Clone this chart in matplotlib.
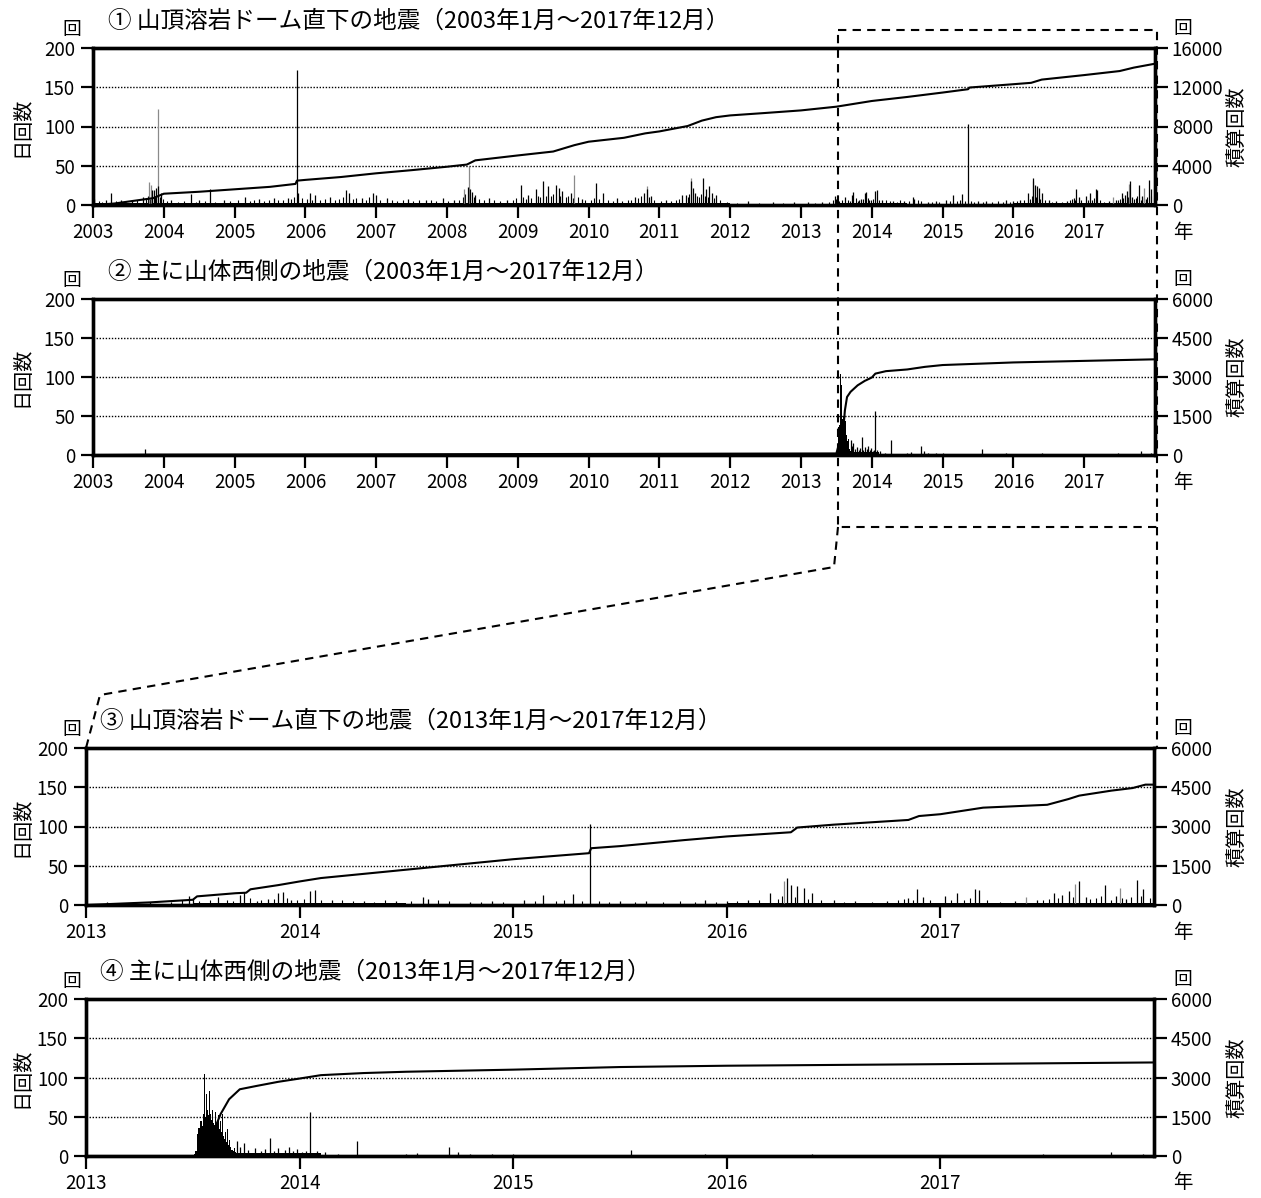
import matplotlib
matplotlib.use("Agg")
import matplotlib.pyplot as plt
from matplotlib.lines import Line2D

plt.rcParams['font.family'] = ['Noto Sans CJK JP', 'DejaVu Sans']

# ---- panel 1/3: summit lava dome earthquakes ----
# typical daily level (half-year steps)
dome_band_t = [2003.0, 2003.5, 2004.0, 2004.5, 2005.0, 2005.5, 2006.0, 2006.5, 2007.0, 2007.5,
               2008.0, 2008.5, 2009.0, 2009.5, 2010.0, 2010.5, 2011.0, 2011.5, 2012.0, 2012.5,
               2013.0, 2013.5, 2014.0, 2014.5, 2015.0, 2015.5, 2016.0, 2016.5, 2017.0, 2017.5, 2018.0]
dome_band_v = [2, 3, 2, 2, 2, 2, 3, 3, 2, 2,
               3, 2.5, 3, 3, 2.5, 3, 2.5, 3, 1.5, 1.5,
               1.2, 2, 2, 1.5, 1.5, 1.5, 2, 2, 2, 2.5, 2.5]

dome_spike_t = [2003.02, 2003.18, 2003.25, 2003.40, 2003.55, 2003.70, 2003.83, 2003.86, 2003.89, 2003.92,
                2003.96, 2004.10, 2004.39, 2004.50, 2004.65, 2004.85, 2005.15, 2005.35, 2005.55, 2005.75,
                2005.88, 2005.90, 2006.07, 2006.14, 2006.35, 2006.57, 2006.62, 2006.80, 2006.95, 2007.00,
                2007.15, 2007.45, 2007.70, 2007.95, 2008.10, 2008.29, 2008.33, 2008.36, 2008.40, 2008.60,
                2008.85, 2009.04, 2009.14, 2009.25, 2009.36, 2009.43, 2009.54, 2009.58, 2009.63, 2009.75,
                2009.90, 2010.11, 2010.21, 2010.40, 2010.66, 2010.78, 2010.83, 2010.88, 2011.10, 2011.32,
                2011.37, 2011.45, 2011.47, 2011.50, 2011.62, 2011.66, 2011.70, 2011.74, 2011.80, 2012.25,
                2012.60, 2012.90,
                2013.10, 2013.30, 2013.48, 2013.50, 2013.62, 2013.72, 2013.74, 2013.80, 2013.85, 2013.90,
                2013.92, 2013.96, 2014.05, 2014.07, 2014.15, 2014.30, 2014.45, 2014.58, 2014.60, 2014.80,
                2014.90, 2015.05, 2015.14, 2015.28, 2015.36, 2015.50, 2015.62, 2015.90, 2016.00, 2016.10,
                2016.20, 2016.28, 2016.30, 2016.33, 2016.36, 2016.40, 2016.50, 2016.60, 2016.75, 2016.85,
                2016.89, 2016.92, 2017.02, 2017.08, 2017.16, 2017.18, 2017.35, 2017.45, 2017.53, 2017.57,
                2017.60, 2017.65, 2017.68, 2017.77, 2017.82, 2017.87, 2017.92, 2017.95]
dome_spike_v = [8, 6, 15, 6, 7, 10, 19, 19, 22, 24,
                15, 7, 14, 6, 20, 7, 10, 8, 9, 9,
                172, 15, 15, 13, 10, 19, 15, 9, 15, 13,
                9, 8, 7, 9, 6, 23, 20, 17, 13, 9,
                7, 26, 13, 20, 30, 24, 26, 22, 18, 15,
                8, 28, 15, 9, 10, 15, 20, 12, 6, 13,
                13, 30, 22, 15, 35, 20, 24, 15, 13, 5,
                4, 4,
                4, 4, 12, 8, 10, 13, 16, 5, 8, 15,
                17, 7, 18, 19, 6, 5, 5, 10, 8, 4,
                5, 6, 13, 14, 103, 5, 5, 6, 5, 6,
                15, 34, 26, 24, 22, 15, 7, 5, 5, 9,
                21, 10, 12, 15, 20, 19, 5, 6, 15, 13,
                18, 31, 10, 26, 12, 8, 32, 20]

# smaller daily peaks that make up the ragged background
dome_small_t = [2003.08, 2003.13, 2003.33, 2003.47, 2003.62, 2003.75, 2003.78, 2003.80, 2003.88, 2003.94,
                2003.99, 2004.05, 2004.20, 2004.28, 2004.45, 2004.58, 2004.72, 2004.93, 2005.05, 2005.22,
                2005.28, 2005.42, 2005.48, 2005.62, 2005.68, 2005.80, 2005.84, 2005.95, 2006.02, 2006.10,
                2006.20, 2006.27, 2006.42, 2006.48, 2006.53, 2006.67, 2006.72, 2006.85, 2006.90, 2007.05,
                2007.22, 2007.30, 2007.38, 2007.52, 2007.60, 2007.78, 2007.85, 2008.02, 2008.17, 2008.22,
                2008.26, 2008.31, 2008.38, 2008.45, 2008.52, 2008.66, 2008.75, 2008.93, 2008.98, 2009.08,
                2009.11, 2009.19, 2009.29, 2009.32, 2009.40, 2009.47, 2009.50, 2009.60, 2009.68, 2009.71,
                2009.78, 2009.85, 2009.95, 2010.03, 2010.08, 2010.15, 2010.27, 2010.34, 2010.47, 2010.55,
                2010.60, 2010.70, 2010.74, 2010.86, 2010.93, 2011.02, 2011.16, 2011.24, 2011.28, 2011.40,
                2011.42, 2011.53, 2011.56, 2011.59, 2011.64, 2011.68, 2011.77, 2011.86, 2011.95, 2012.10,
                2012.40, 2012.75,
                2013.20, 2013.40, 2013.45, 2013.53, 2013.58, 2013.66, 2013.69, 2013.77, 2013.82, 2013.88,
                2013.94, 2013.99, 2014.02, 2014.10, 2014.20, 2014.25, 2014.35, 2014.40, 2014.52, 2014.65,
                2014.70, 2014.85, 2014.95, 2015.10, 2015.20, 2015.24, 2015.32, 2015.40, 2015.45, 2015.57,
                2015.70, 2015.78, 2015.85, 2015.95, 2016.05, 2016.15, 2016.24, 2016.26, 2016.32, 2016.38,
                2016.44, 2016.55, 2016.68, 2016.80, 2016.83, 2016.87, 2016.95, 2017.05, 2017.11, 2017.14,
                2017.22, 2017.28, 2017.40, 2017.48, 2017.51, 2017.55, 2017.62, 2017.70, 2017.73, 2017.75,
                2017.80, 2017.85, 2017.89, 2017.94, 2017.98]
dome_small_v = [5, 4, 5, 4, 6, 9, 12, 8, 12, 10,
                8, 5, 4, 5, 4, 5, 4, 5, 6, 5,
                7, 5, 6, 6, 7, 8, 10, 9, 8, 7,
                6, 8, 7, 8, 10, 8, 9, 7, 10, 7,
                6, 5, 6, 5, 6, 6, 5, 5, 6, 10,
                14, 12, 10, 8, 7, 6, 5, 7, 9, 10,
                8, 9, 12, 10, 11, 12, 14, 12, 10, 12,
                9, 10, 7, 6, 9, 8, 6, 5, 5, 6,
                7, 9, 11, 10, 7, 5, 5, 6, 8, 10,
                14, 12, 10, 14, 12, 10, 9, 6, 4, 3,
                3, 3,
                3, 4, 6, 5, 6, 7, 5, 9, 6, 8,
                9, 6, 8, 7, 6, 5, 4, 6, 5, 6,
                5, 4, 4, 5, 5, 6, 5, 5, 4, 4,
                4, 5, 4, 4, 5, 6, 8, 12, 10, 8,
                6, 4, 4, 6, 8, 7, 6, 6, 7, 9,
                6, 4, 4, 6, 8, 9, 10, 8, 9, 12,
                7, 9, 10, 12, 9]

dome_gray_t = [2003.79, 2003.82, 2003.92, 2008.24, 2008.31, 2009.80, 2010.82, 2011.44,
               2016.27, 2017.40, 2017.63, 2017.84]
dome_gray_v = [29, 26, 122, 21, 50, 38, 24, 34, 30, 10, 27, 22]

# cumulative counts, 2003-2017
dome_cum_t = [2003.0, 2003.3, 2003.6, 2003.85, 2003.95, 2004.0, 2004.5, 2005.0, 2005.5, 2005.86,
              2005.88, 2006.0, 2006.5, 2007.0, 2007.5, 2008.0, 2008.28, 2008.4, 2008.7, 2009.0,
              2009.5, 2009.8, 2010.0, 2010.5, 2010.8, 2011.0, 2011.4, 2011.6, 2011.8, 2012.0,
              2012.5, 2013.0, 2013.5, 2014.0, 2014.5, 2015.0, 2015.36, 2015.38, 2016.0, 2016.25,
              2016.4, 2017.0, 2017.5, 2017.7, 2018.0]
dome_cum_v = [0, 150, 450, 700, 1000, 1150, 1350, 1600, 1850, 2150,
              2480, 2560, 2850, 3230, 3550, 3900, 4120, 4550, 4800, 5050,
              5450, 6100, 6450, 6850, 7300, 7500, 8050, 8600, 8950, 9130,
              9380, 9640, 10020, 10600, 11010, 11460, 11800, 11970, 12310, 12450,
              12780, 13240, 13650, 14000, 14400]

# cumulative counts, 2013-2017
dome_cum13_t = [2013.0, 2013.3, 2013.5, 2013.52, 2013.7, 2013.75, 2013.77, 2013.9, 2014.0, 2014.1,
                2014.5, 2015.0, 2015.355, 2015.365, 2015.5, 2015.8, 2016.0, 2016.3, 2016.33, 2016.5,
                2016.85, 2016.9, 2017.0, 2017.2, 2017.5, 2017.6, 2017.65, 2017.8, 2017.9, 2017.96, 2018.0]
dome_cum13_v = [0, 100, 200, 330, 450, 470, 600, 760, 900, 1030,
                1350, 1750, 1980, 2170, 2250, 2480, 2620, 2780, 2960, 3070,
                3250, 3400, 3470, 3720, 3830, 4050, 4180, 4370, 4470, 4600, 4600]

# ---- panel 2/4: mainly west flank earthquakes ----
west_swarm_t = [2013.505, 2013.514, 2013.522, 2013.529, 2013.537, 2013.545, 2013.552, 2013.557, 2013.561, 2013.564,
                2013.568, 2013.571, 2013.574, 2013.577, 2013.580, 2013.583, 2013.587, 2013.591, 2013.595, 2013.599,
                2013.603, 2013.607, 2013.611, 2013.615, 2013.618, 2013.622, 2013.626, 2013.630, 2013.634, 2013.638,
                2013.642, 2013.646, 2013.650, 2013.654, 2013.658, 2013.662, 2013.666, 2013.670, 2013.674, 2013.677,
                2013.681, 2013.685, 2013.690, 2013.693, 2013.700, 2013.705]
west_swarm_v = [2, 6, 28, 36, 44, 38, 54, 104, 50, 79,
                58, 90, 52, 83, 48, 54, 46, 58, 42, 50,
                40, 56, 42, 46, 36, 52, 34, 44, 30, 54,
                26, 40, 22, 31, 18, 35, 14, 21, 10, 12,
                8, 8, 6, 10, 5, 4]

west_spike_t = [2003.74, 2013.708, 2013.72, 2013.74, 2013.76, 2013.79, 2013.82, 2013.84, 2013.86, 2013.88,
                2013.90, 2013.93, 2013.95, 2013.97, 2013.99, 2014.01, 2014.03, 2014.05, 2014.08, 2014.12,
                2014.18, 2014.27, 2014.50, 2014.55, 2014.70, 2014.74, 2014.80, 2014.90, 2015.00, 2015.55,
                2015.90, 2016.40, 2017.48, 2017.80, 2017.95]
west_spike_v = [8, 19, 12, 16, 8, 10, 6, 9, 23, 7,
                10, 8, 12, 6, 9, 5, 7, 56, 6, 5,
                3, 19, 3, 4, 12, 5, 3, 2, 3, 8,
                3, 3, 3, 5, 2]

west_band_t = [2013.705, 2014.1, 2015.0, 2018.0]
west_band_v = [4, 1, 0.4, 0.4]

west_cum_t = [2003.0, 2003.74, 2006.3, 2009.8, 2013.5, 2013.6, 2013.62, 2013.65, 2013.7, 2013.8,
              2013.9, 2014.0, 2014.05, 2014.2, 2014.5, 2014.75, 2015.0, 2016.0, 2017.0, 2018.0]
west_cum_v = [0, 10, 20, 40, 60, 1070, 1715, 2230, 2430, 2680,
              2850, 2980, 3130, 3225, 3290, 3390, 3460, 3560, 3620, 3680]

west_cum13_t = [2013.0, 2013.55, 2013.6, 2013.63, 2013.67, 2013.72, 2013.8, 2013.9, 2014.0, 2014.1,
                2014.3, 2014.5, 2015.0, 2015.5, 2016.0, 2017.0, 2018.0]
west_cum13_v = [0, 0, 1000, 1600, 2170, 2550, 2680, 2835, 2960, 3090,
                3170, 3220, 3300, 3400, 3450, 3510, 3575]

titles = ["① 山頂溶岩ドーム直下の地震（2003年1月～2017年12月）",
          "② 主に山体西側の地震（2003年1月～2017年12月）",
          "③ 山頂溶岩ドーム直下の地震（2013年1月～2017年12月）",
          "④ 主に山体西側の地震（2013年1月～2017年12月）"]

W, H = 1261, 1198
fig = plt.figure(figsize=(W / 100, H / 100), dpi=100)


def rect(left, top, right, bottom):
    return [left / W, 1 - bottom / H, (right - left) / W, (bottom - top) / H]


def panel(r, x0, years, rmax, title, tx, band, spikes, gray, cum, small=None, swarm=None):
    ax = fig.add_axes(r)
    ax.set_xlim(x0, 2018)
    ax.set_ylim(0, 200)
    ax.set_axisbelow(True)
    ax.set_yticks([0, 50, 100, 150, 200])
    ax.set_xticks(years)
    ax.set_xticklabels([str(y) for y in years])
    ax.grid(axis='y', color='k', ls=(0, (1, 1.2)), lw=1.0)
    ax.fill_between(band[0], band[1], step='post', color='k', lw=0)
    if swarm is not None:
        ax.fill_between(swarm[0], swarm[1], step='mid', color='k', lw=0)
    if small is not None:
        ax.vlines(small[0], 0, small[1], color='k', lw=0.8)
    ax.vlines(gray[0], 0, gray[1], color='#8a8a8a', lw=0.9)
    ax.vlines(spikes[0], 0, spikes[1], color='k', lw=0.9)
    for s in ax.spines.values():
        s.set_linewidth(2.4)
    ax.tick_params(axis='both', direction='out', length=9, width=1.6, labelsize=13.5, pad=4)
    ax.tick_params(axis='x', length=9, pad=3)

    ax2 = ax.twinx()
    ax2.set_ylim(0, rmax)
    ax2.set_yticks([rmax * i / 4 for i in range(5)])
    ax2.set_yticklabels([str(int(rmax * i / 4)) for i in range(5)])
    ax2.plot(cum[0], cum[1], color='k', lw=1.5)
    ax2.tick_params(axis='y', direction='out', length=9, width=1.6, labelsize=13.5, pad=3)
    for s in ax2.spines.values():
        s.set_linewidth(2.4)

    p = ax.get_position()
    top = (1 - p.y1) * H
    bot = (1 - p.y0) * H
    mid = (top + bot) / 2
    fig.text(tx / W, 1 - (top - 27) / H, title, fontsize=17, va='center', ha='left')
    fig.text(72 / W, 1 - (top - 18) / H, "回", fontsize=13.5, va='center', ha='center')
    fig.text(1183 / W, 1 - (top - 19) / H, "回", fontsize=13.5, va='center', ha='center')
    fig.text(1183 / W, 1 - (bot + 27) / H, "年", fontsize=14, va='center', ha='center')
    fig.text(22 / W, 1 - mid / H, "日回数", fontsize=14.5, va='center', ha='center', rotation=90)
    fig.text(1237 / W, 1 - mid / H, "積算回数", fontsize=14.5, va='center', ha='center', rotation=90)
    return ax


years_all = list(range(2003, 2018))
years_13 = list(range(2013, 2018))

ax1 = panel(rect(93, 48, 1155, 205), 2003, years_all, 16000, titles[0], 108,
            (dome_band_t, dome_band_v), (dome_spike_t, dome_spike_v), (dome_gray_t, dome_gray_v),
            (dome_cum_t, dome_cum_v), small=(dome_small_t, dome_small_v))
ax2 = panel(rect(93, 299, 1155, 455), 2003, years_all, 6000, titles[1], 108,
            (west_band_t, west_band_v), (west_spike_t, west_spike_v), ([], []),
            (west_cum_t, west_cum_v), swarm=(west_swarm_t, west_swarm_v))
ax3 = panel(rect(86, 748, 1154, 905), 2013, years_13, 6000, titles[2], 100,
            (dome_band_t, dome_band_v), (dome_spike_t, dome_spike_v), (dome_gray_t, dome_gray_v),
            (dome_cum13_t, dome_cum13_v), small=(dome_small_t, dome_small_v))
ax4 = panel(rect(86, 999, 1154, 1156), 2013, years_13, 6000, titles[3], 100,
            (west_band_t, west_band_v), (west_spike_t, west_spike_v), ([], []),
            (west_cum13_t, west_cum13_v), swarm=(west_swarm_t, west_swarm_v))

# dashed zoom-in guide (figure pixels)
guide_x = [838, 1157, 1157, 838, 838]
guide_y = [30, 30, 527, 527, 30]
link1_x = [838, 834, 100, 86]
link1_y = [527, 567, 695, 748]
link2_x = [1157, 1157]
link2_y = [527, 748]
for gx, gy in [(guide_x, guide_y), (link1_x, link1_y), (link2_x, link2_y)]:
    fig.add_artist(Line2D([x / W for x in gx], [1 - y / H for y in gy], color='k', lw=1.5,
                          ls=(0, (4, 3)), transform=fig.transFigure, zorder=10))

fig.savefig("out.png", dpi=100)
